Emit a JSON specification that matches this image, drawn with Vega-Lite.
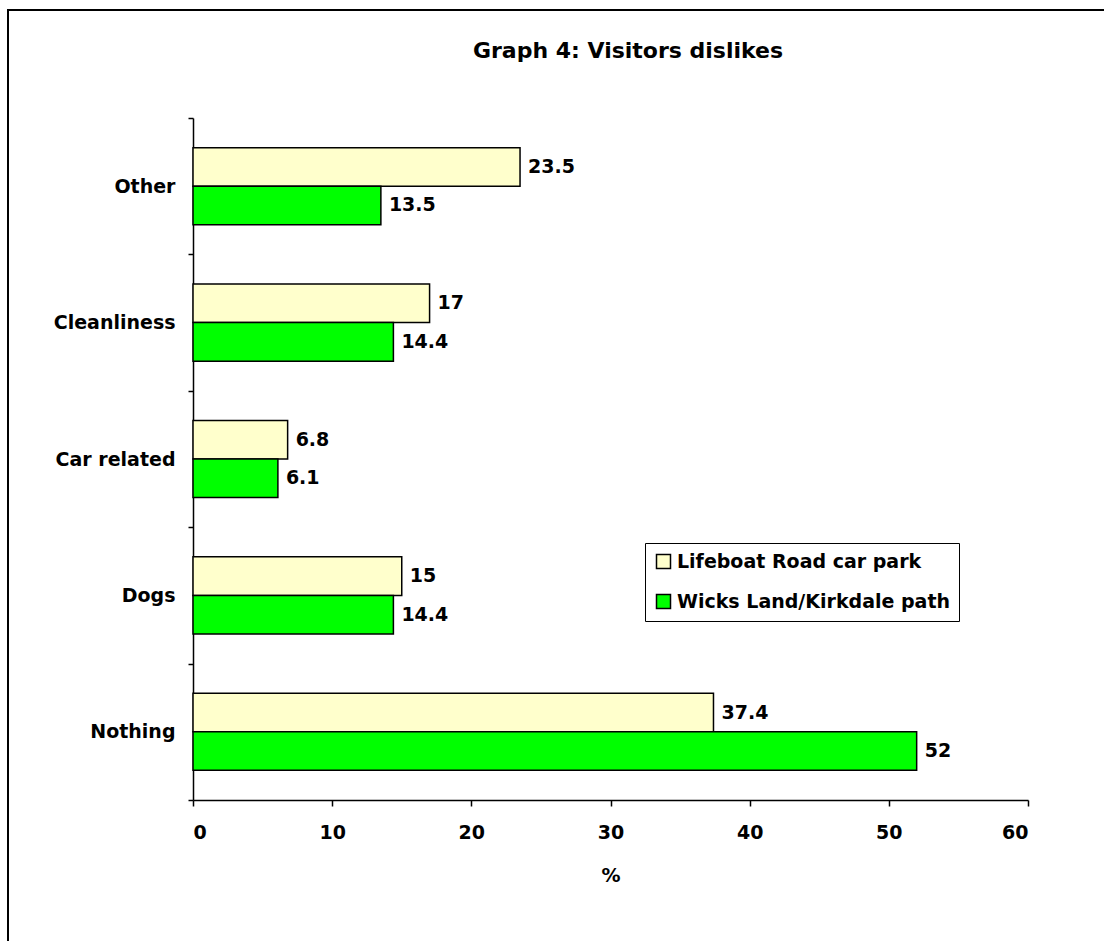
{
  "$schema": "https://vega.github.io/schema/vega-lite/v6.json",
  "autosize": "none",
  "padding": {"left": 8, "top": 10, "right": 0, "bottom": 0},
  "width": 1100,
  "height": 935,
  "background": "white",
  "config": {
    "view": {"stroke": "black", "strokeWidth": 2},
    "font": "DejaVu Sans"
  },
  "title": {
    "text": "Graph 4: Visitors dislikes",
    "frame": "group",
    "anchor": "middle",
    "dx": 70,
    "offset": -62,
    "fontSize": 22,
    "fontWeight": "bold",
    "color": "black",
    "font": "DejaVu Sans"
  },
  "data": {
    "values": [
      {"category": "Other", "site": "Lifeboat Road car park", "value": 23.5},
      {"category": "Other", "site": "Wicks Land/Kirkdale path", "value": 13.5},
      {"category": "Cleanliness", "site": "Lifeboat Road car park", "value": 17},
      {"category": "Cleanliness", "site": "Wicks Land/Kirkdale path", "value": 14.4},
      {"category": "Car related", "site": "Lifeboat Road car park", "value": 6.8},
      {"category": "Car related", "site": "Wicks Land/Kirkdale path", "value": 6.1},
      {"category": "Dogs", "site": "Lifeboat Road car park", "value": 15},
      {"category": "Dogs", "site": "Wicks Land/Kirkdale path", "value": 14.4},
      {"category": "Nothing", "site": "Lifeboat Road car park", "value": 37.4},
      {"category": "Nothing", "site": "Wicks Land/Kirkdale path", "value": 52}
    ]
  },
  "encoding": {
    "y": {
      "field": "category",
      "type": "nominal",
      "sort": ["Other", "Cleanliness", "Car related", "Dogs", "Nothing"],
      "scale": {"range": [108, 790], "paddingInner": 0, "paddingOuter": 0},
      "axis": {
        "title": null,
        "offset": -185,
        "tickBand": "extent",
        "tickSize": 5,
        "tickColor": "black",
        "tickWidth": 1.5,
        "domainColor": "black",
        "domainWidth": 1.5,
        "labelPadding": 13,
        "labelFontSize": 19,
        "labelFontWeight": "bold",
        "labelColor": "black",
        "labelFont": "DejaVu Sans"
      }
    },
    "yOffset": {
      "field": "site",
      "type": "nominal",
      "sort": ["Lifeboat Road car park", "Wicks Land/Kirkdale path"],
      "scale": {"paddingOuter": 0.77, "paddingInner": 0}
    },
    "x": {
      "field": "value",
      "type": "quantitative",
      "scale": {"domain": [0, 60], "range": [185, 1020], "nice": false},
      "axis": {
        "title": "%",
        "offset": -145,
        "values": [0, 10, 20, 30, 40, 50, 60],
        "grid": false,
        "tickSize": 6,
        "tickColor": "black",
        "tickWidth": 1.5,
        "domainColor": "black",
        "domainWidth": 1.5,
        "labelPadding": 17,
        "labelFontSize": 19,
        "labelFontWeight": "bold",
        "labelColor": "black",
        "labelFont": "DejaVu Sans",
        "titlePadding": 24,
        "titleFontSize": 19,
        "titleFontWeight": "bold",
        "titleColor": "black",
        "titleFont": "DejaVu Sans"
      }
    }
  },
  "layer": [
    {
      "mark": {"type": "bar", "stroke": "black", "strokeWidth": 1.5},
      "encoding": {
        "color": {
          "field": "site",
          "type": "nominal",
          "scale": {
            "domain": ["Lifeboat Road car park", "Wicks Land/Kirkdale path"],
            "range": ["#FFFFCC", "#00FF00"]
          },
          "legend": {
            "title": null,
            "orient": "none",
            "legendX": 637,
            "legendY": 533,
            "strokeColor": "black",
            "fillColor": "white",
            "padding": 9,
            "symbolType": "square",
            "symbolSize": 196,
            "symbolStrokeColor": "black",
            "symbolStrokeWidth": 1.5,
            "labelFontSize": 19,
            "labelFontWeight": "bold",
            "labelColor": "black",
            "labelFont": "DejaVu Sans",
            "labelLimit": 400,
            "rowPadding": 19,
            "labelOffset": 4
          }
        }
      }
    },
    {
      "mark": {
        "type": "text",
        "align": "left",
        "baseline": "middle",
        "dx": 8,
        "fontSize": 19,
        "fontWeight": "bold",
        "color": "black",
        "font": "DejaVu Sans"
      },
      "encoding": {
        "text": {"field": "value", "type": "quantitative"}
      }
    }
  ]
}
